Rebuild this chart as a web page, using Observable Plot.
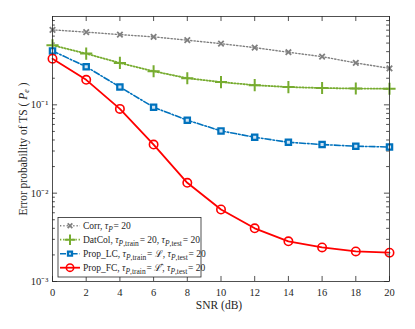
<!DOCTYPE html>
<html><head><meta charset="utf-8">
<script src="https://cdn.jsdelivr.net/npm/d3@7"></script>
<script src="https://cdn.jsdelivr.net/npm/@observablehq/plot@0.6"></script>
<style>body{margin:0;background:#fff;} svg{display:block}</style>
</head><body><div id="chart"></div>
<script>
const snr = [0, 2, 4, 6, 8, 10, 12, 14, 16, 18, 20];
const corr   = [0.706, 0.665, 0.624, 0.588, 0.539, 0.493, 0.444, 0.394, 0.351, 0.298, 0.259];
const datcol = [0.473, 0.380, 0.298, 0.240, 0.200, 0.181, 0.167, 0.159, 0.155, 0.153, 0.152];
const propLC = [0.408, 0.270, 0.159, 0.094, 0.067, 0.0507, 0.043, 0.0377, 0.0355, 0.034, 0.0333];
const propFC = [0.333, 0.192, 0.090, 0.0355, 0.0131, 0.00653, 0.0040, 0.00285, 0.00243, 0.00219, 0.00212];
const xTicks = [0, 2, 4, 6, 8, 10, 12, 14, 16, 18, 20];
const yTicks = [1e-3, 1e-2, 1e-1];
const yTickLabels = ["10\u207B\u00B3", "10\u207B\u00B2", "10\u207B\u00B9"];
const yMinor = [];
for (const d of [1e-3, 1e-2, 1e-1]) for (let k = 2; k <= 9; k++) yMinor.push(+(d * k).toPrecision(3));

const series = [
  {key: "corr", values: corr, color: "#808080", dash: "1.3,2", width: 1.4, symbol: "times", r: 2.6, sw: 1.8, fill: "none"},
  {key: "datcol", values: datcol, color: "#77AC30", dash: "1.3,1.8", width: 1.8, symbol: "plus", r: 4, sw: 2, fill: "none"},
  {key: "lc", values: propLC, color: "#0072BD", dash: "6,2,1.6,2", width: 1.6, symbol: "square", r: 3, sw: 2.2, fill: "#cfe3f3"},
  {key: "fc", values: propFC, color: "#FF0000", dash: null, width: 1.8, symbol: "circle", r: 4.2, sw: 1.6, fill: "none"}
];
const rows = s => snr.map((x, i) => ({x, y: s.values[i]}));

const font = "Liberation Serif, Times New Roman, serif";
const marks = [];
marks.push(Plot.ruleX(xTicks, {x: d => d, y1: 1e-3, y2: 1.14e-3, stroke: "#262626", strokeWidth: 0.8}));
marks.push(Plot.ruleX(xTicks, {x: d => d, y1: 1, y2: 1 / 1.14, stroke: "#262626", strokeWidth: 0.8}));
marks.push(Plot.ruleY(yTicks, {y: d => d, x1: 0, x2: 0.3, stroke: "#262626", strokeWidth: 0.8}));
marks.push(Plot.ruleY(yTicks, {y: d => d, x1: 20, x2: 19.7, stroke: "#262626", strokeWidth: 0.8}));
marks.push(Plot.ruleY(yMinor, {y: d => d, x1: 0, x2: 0.17, stroke: "#262626", strokeWidth: 0.8}));
marks.push(Plot.ruleY(yMinor, {y: d => d, x1: 20, x2: 19.83, stroke: "#262626", strokeWidth: 0.8}));
for (const s of series) {
  marks.push(Plot.line(rows(s), {x: "x", y: "y", stroke: s.color, strokeWidth: s.width, strokeDasharray: s.dash}));
  marks.push(Plot.dot(rows(s), {x: "x", y: "y", symbol: s.symbol, r: s.r, stroke: s.color, strokeWidth: s.sw, fill: s.fill}));
}
marks.push(Plot.frame({stroke: "#262626", strokeWidth: 0.8}));
marks.push(Plot.axisX(xTicks, {tickSize: 0, tickPadding: 7, label: null, fontSize: 10.5, fontFamily: font, fill: "#262626"}));
marks.push(Plot.axisY(yTicks, {tickSize: 0, tickPadding: 4, label: null, fontSize: 10.5, fontFamily: font, fill: "#262626",
  tickFormat: d => yTickLabels[yTicks.indexOf(d)]}));

const svg = Plot.plot({
  width: 415, height: 329,
  marginLeft: 52, marginRight: 26, marginTop: 16, marginBottom: 48,
  style: {fontFamily: font, fontSize: "10.5px", background: "#fff", color: "#262626"},
  x: {domain: [0, 20], axis: null},
  y: {type: "log", domain: [1e-3, 1], axis: null},
  marks
});
document.getElementById("chart").appendChild(svg);

const S = d3.select(svg);
S.selectAll("text").attr("font-family", font);
S.append("text").attr("x", 219).attr("y", 309).attr("text-anchor", "middle")
  .attr("font-family", font).attr("font-size", 11.5).attr("fill", "#262626").text("SNR (dB)");
const yl = S.append("text").attr("transform", "translate(27,149) rotate(-90)").attr("text-anchor", "middle")
  .attr("font-family", font).attr("font-size", 11.5).attr("fill", "#262626");
yl.append("tspan").text("Error probability of TS ( ");
yl.append("tspan").attr("font-style", "italic").text("P");
yl.append("tspan").attr("font-style", "italic").attr("font-size", 8).attr("dy", 2).text("e");
yl.append("tspan").attr("dy", -2).text(" )");

// legend
const lg = S.append("g").attr("font-family", font).attr("font-size", 9.5).attr("fill", "#262626").attr("text-anchor", "start");
lg.append("rect").attr("x", 58).attr("y", 217.5).attr("width", 143).attr("height", 59.5)
  .attr("fill", "#fff").attr("stroke", "#262626").attr("stroke-width", 0.8);
const legendY = [225.7, 239.7, 253.7, 267.7];
const sym = {times: d3.symbolTimes, plus: d3.symbolPlus, square: d3.symbolSquare2, circle: d3.symbolCircle};
series.forEach((s, i) => {
  const y = legendY[i];
  lg.append("line").attr("x1", 60).attr("x2", 80).attr("y1", y).attr("y2", y)
    .attr("stroke", s.color).attr("stroke-width", s.width).attr("stroke-dasharray", s.dash);
  lg.append("path").attr("transform", `translate(70,${y})`)
    .attr("d", d3.symbol(sym[s.symbol], Math.PI * s.r * s.r * 0.75)())
    .attr("stroke", s.color).attr("stroke-width", s.sw).attr("fill", s.fill === "none" ? "none" : s.fill);
});
function tau(t, sub) {
  t.append("tspan").attr("font-style", "italic").text("\u03C4");
  const parts = sub.split(",");
  t.append("tspan").attr("font-style", "italic").attr("font-size", 7.5).attr("dy", 2.5).text(parts[0]);
  if (parts[1]) t.append("tspan").attr("font-size", 7.5).text("," + parts[1]);
  t.append("tspan").attr("dy", -2.5).text("\u200A");
}
function row(i) { return lg.append("text").attr("x", 83).attr("y", legendY[i] + 3.3).attr("text-anchor", "start"); }
let t = row(0); t.append("tspan").text("Corr, "); tau(t, "P"); t.append("tspan").text("= 20");
t = row(1); t.append("tspan").text("DatCol, "); tau(t, "P,train"); t.append("tspan").text("= 20, "); tau(t, "P,test"); t.append("tspan").text("= 20");
t = row(2); t.append("tspan").text("Prop_LC, "); tau(t, "P,train"); t.append("tspan").text("= \u2112, "); tau(t, "P,test"); t.append("tspan").text("= 20");
t = row(3); t.append("tspan").text("Prop_FC, "); tau(t, "P,train"); t.append("tspan").text("= \u2112\u0302, "); tau(t, "P,test"); t.append("tspan").text("= 20");
</script>
</body></html>
